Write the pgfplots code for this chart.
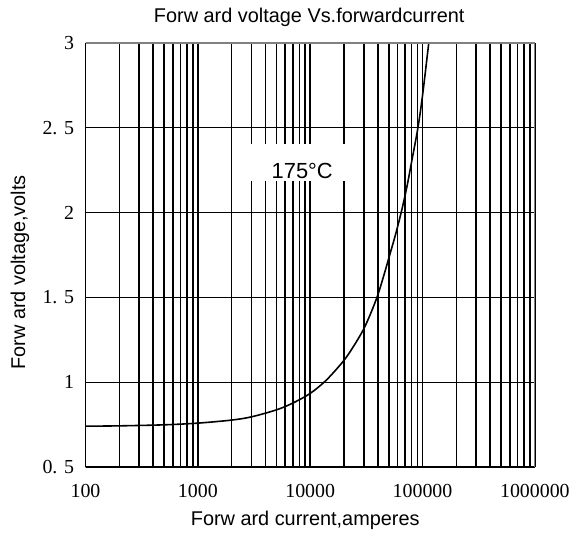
\documentclass[border=0pt]{standalone}
\usepackage{fontspec}
\setmainfont{Liberation Sans}
\newfontfamily\tickfont{Liberation Serif}
\usepackage{pgfplots}
\pgfplotsset{compat=1.18}

% forward voltage (V) vs forward current (A)
\pgfplotstableread{
I       V
100     0.742
200     0.744
500     0.750
1000    0.760
2000    0.778
3000    0.797
5000    0.838
7000    0.878
10000   0.935
14000   1.015
20000   1.130
25000   1.225
30000   1.315
35000   1.415
40000   1.515
45000   1.625
51000   1.750
58000   1.880
65600   2.020
73000   2.160
80000   2.300
91000   2.500
100000  2.690
113700  3.000
120000  3.120
}\fwd

\begin{document}
\begin{tikzpicture}
\begin{axis}[
    name=ax,
    scale only axis,
    width=452pt, height=427pt,
    xmode=log,
    xmin=100, xmax=1000000,
    ymin=0.5, ymax=3,
    xtick={100,1000,10000,100000,1000000},
    xticklabels={100,1000,10000,100000,1000000},
    minor xtick={200,300,400,500,600,700,800,900,
                 2000,3000,4000,5000,6000,7000,8000,9000,
                 20000,30000,40000,50000,60000,70000,80000,90000,
                 200000,300000,400000,500000,600000,700000,800000,900000},
    ytick={0.5,1,1.5,2,2.5,3},
    yticklabels={0. 5,1,1. 5,2,2. 5,3},
    grid=both,
    major grid style={black, line width=1.6pt},
    minor grid style={black, line width=1.6pt},
    major tick length=0pt, minor tick length=0pt,
    axis line style={draw=none},
    ticklabel style={font=\tickfont\fontsize{20}{20}\selectfont},
    xticklabel style={anchor=base, yshift=-30pt},
    yticklabel style={xshift=-8pt},
]
\addplot[black, line width=1.6pt, smooth] table[x=I, y=V] {\fwd};
\draw[black, line width=2pt] (rel axis cs:0,1) -- (rel axis cs:0,0) -- (rel axis cs:1,0);
\draw[gray, line width=2pt] (rel axis cs:0,1) -- (rel axis cs:1,1) -- (rel axis cs:1,0);
\node[fill=white, minimum width=98pt, minimum height=37pt, inner sep=0pt]
    at (axis cs:7670,2.297) {};
\node[font=\fontsize{22}{22}\selectfont, inner sep=0pt] at (axis cs:8490,2.244) {175°C};
\end{axis}
\node[font=\fontsize{20}{20}\selectfont, anchor=base] at ([shift={(225pt,447pt)}]ax.south west)
    {Forw ard voltage Vs.forwardcurrent};
\node[font=\fontsize{20}{20}\selectfont, anchor=base] at ([shift={(221pt,-59pt)}]ax.south west)
    {Forw ard current,amperes};
\node[font=\fontsize{20}{20}\selectfont, rotate=90] at ([shift={(-66pt,196pt)}]ax.south west)
    {Forw ard voltage,volts};
\path ([shift={(-86pt,-71pt)}]ax.south west) rectangle ++(573pt,541pt);
\end{tikzpicture}
\end{document}
